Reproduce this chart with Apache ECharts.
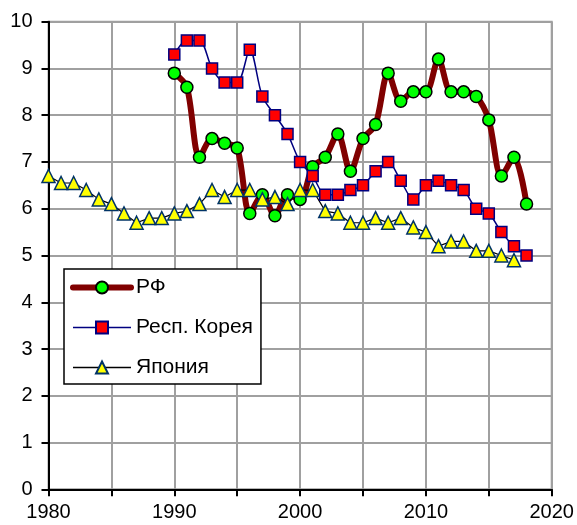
<!DOCTYPE html>
<html><head><meta charset="utf-8">
<script src="https://cdn.jsdelivr.net/npm/echarts@6/dist/echarts.min.js"></script>
<style>html,body{margin:0;padding:0;background:#fff}#c{width:577px;height:525px}</style>
</head><body><div id="c"></div>
<script>
const seriesNames = ['РФ', 'Респ. Корея', 'Япония'];
const rfYears = [1990,1991,1992,1993,1994,1995,1996,1997,1998,1999,2000,2001,2002,2003,2004,2005,2006,2007,2008,2009,2010,2011,2012,2013,2014,2015,2016,2017,2018];
const rfValues = [8.9,8.6,7.1,7.5,7.4,7.3,5.9,6.3,5.85,6.3,6.2,6.9,7.1,7.6,6.8,7.5,7.8,8.9,8.3,8.5,8.5,9.2,8.5,8.5,8.4,7.9,6.7,7.1,6.1];
const krYears = [1990,1991,1992,1993,1994,1995,1996,1997,1998,1999,2000,2001,2002,2003,2004,2005,2006,2007,2008,2009,2010,2011,2012,2013,2014,2015,2016,2017,2018];
const krValues = [9.3,9.6,9.6,9.0,8.7,8.7,9.4,8.4,8.0,7.6,7.0,6.7,6.3,6.3,6.4,6.5,6.8,7.0,6.6,6.2,6.5,6.6,6.5,6.4,6.0,5.9,5.5,5.2,5.0];
const jpYears = [1980,1981,1982,1983,1984,1985,1986,1987,1988,1989,1990,1991,1992,1993,1994,1995,1996,1997,1998,1999,2000,2001,2002,2003,2004,2005,2006,2007,2008,2009,2010,2011,2012,2013,2014,2015,2016,2017];
const jpValues = [6.7,6.55,6.55,6.4,6.2,6.1,5.9,5.7,5.8,5.8,5.9,5.95,6.1,6.4,6.25,6.4,6.4,6.2,6.25,6.1,6.4,6.4,5.95,5.9,5.7,5.7,5.8,5.7,5.8,5.6,5.5,5.2,5.3,5.3,5.1,5.1,5.0,4.9];
const xTickLabels = ['1980','1990','2000','2010','2020'];
const yTickLabels = ['0','1','2','3','4','5','6','7','8','9','10'];

const pairs = (xs, ys) => xs.map((x, i) => [x, ys[i]]);
const font = 'Liberation Sans, Arial, sans-serif';
const chart = echarts.init(document.getElementById('c'), null, {renderer: 'canvas'});
chart.setOption({
  animation: false,
  grid: {left: 48.5, right: 25.3, top: 21.7, bottom: 35.7, show: true, borderColor: '#a0a0a0', borderWidth: 2, backgroundColor: '#fff'},
  xAxis: {
    type: 'value', min: 1980, max: 2020, interval: 5,
    axisLine: {onZero: false, lineStyle: {color: '#000', width: 2}},
    axisTick: {show: true, length: 7, lineStyle: {color: '#000', width: 2}},
    axisLabel: {margin: 13, color: '#000', fontSize: 20, fontFamily: font,
      formatter: v => xTickLabels.includes(String(v)) ? String(v) : ''},
    splitLine: {show: true, lineStyle: {color: '#a0a0a0', width: 2}}
  },
  yAxis: {
    type: 'value', min: 0, max: 10, interval: 1,
    axisLine: {show: true, onZero: false, lineStyle: {color: '#000', width: 2}},
    axisTick: {show: true, length: 7, lineStyle: {color: '#000', width: 2}},
    axisLabel: {margin: 16, color: '#000', fontSize: 20, fontFamily: font,
      formatter: v => yTickLabels[v] !== undefined ? yTickLabels[v] : ''},
    splitLine: {show: true, lineStyle: {color: '#a0a0a0', width: 2}}
  },
  legend: {
    orient: 'vertical', left: 64, top: 269,
    backgroundColor: '#fff', borderColor: '#000', borderWidth: 1.5,
    padding: [8, 8, 6, 6], itemGap: 19, itemWidth: 58, itemHeight: 15,
    textStyle: {fontSize: 21, fontFamily: font, color: '#000'},
    data: [
      {name: seriesNames[0], lineStyle: {width: 6, cap: 'round'}},
      {name: seriesNames[1], lineStyle: {width: 1.5}},
      {name: seriesNames[2], lineStyle: {width: 1.5}}
    ]
  },
  series: [
    {name: seriesNames[0], type: 'line', data: pairs(rfYears, rfValues), smooth: 0.3,
      lineStyle: {color: '#800000', width: 6}, symbol: 'circle', symbolSize: 12,
      itemStyle: {color: '#00ff00', borderColor: '#000', borderWidth: 1.5}},
    {name: seriesNames[1], type: 'line', data: pairs(krYears, krValues), smooth: 0.3,
      lineStyle: {color: '#000080', width: 1.5}, symbol: 'rect', symbolSize: 11,
      itemStyle: {color: '#ff0000', borderColor: '#000080', borderWidth: 1.5}},
    {name: seriesNames[2], type: 'line', data: pairs(jpYears, jpValues),
      lineStyle: {color: '#000', width: 1.2}, symbol: 'triangle', symbolSize: 13,
      itemStyle: {color: '#ffff00', borderColor: '#003366', borderWidth: 1.5}}
  ]
});
</script></body></html>
